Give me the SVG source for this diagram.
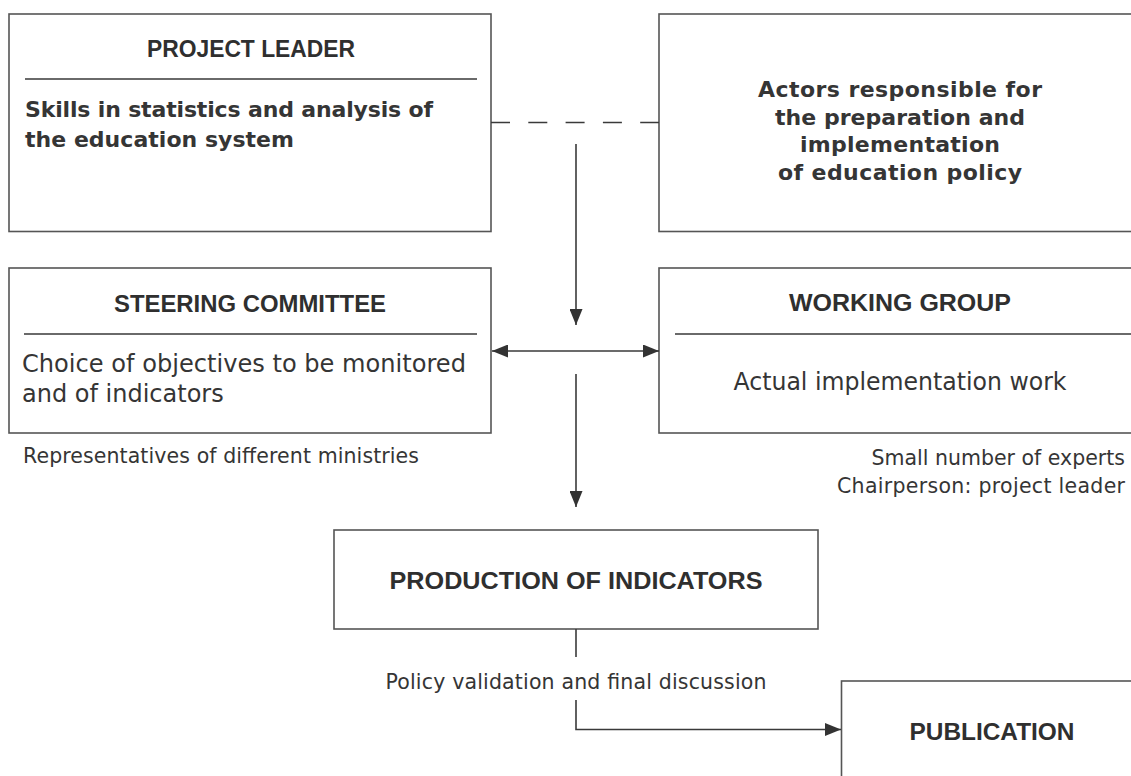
<svg xmlns="http://www.w3.org/2000/svg" width="1131" height="776" viewBox="0 0 1131 776">
<style>
.box{fill:#fff;stroke:#555;stroke-width:1.6}
.div{stroke:#6a6a6a;stroke-width:2}
.title{font-family:"Liberation Sans",Arial,sans-serif;font-weight:bold;font-size:23.5px;fill:#2f2f2f}
.bb{font-family:"DejaVu Sans","Liberation Sans",sans-serif;font-weight:bold;font-size:22px;fill:#353535}
.reg{font-family:"DejaVu Sans","Liberation Sans",sans-serif;font-size:24px;fill:#353535}
.ann{font-family:"DejaVu Sans","Liberation Sans",sans-serif;font-size:20.5px;fill:#353535}
.con{fill:none;stroke:#3a3a3a;stroke-width:1.6}
</style>
<defs>
<marker id="ah" markerUnits="userSpaceOnUse" markerWidth="16" markerHeight="13" refX="16" refY="6.5" orient="auto-start-reverse" viewBox="0 0 16 13">
<path d="M0,0 L16,6.5 L0,13 z" fill="#333"/>
</marker>
</defs>
<g id="project-leader">
<rect class="box" x="9" y="14" width="482" height="217.5"/>
<text class="title" x="251" y="57" text-anchor="middle" textLength="208" lengthAdjust="spacingAndGlyphs">PROJECT LEADER</text>
<line class="div" x1="25" y1="79" x2="477" y2="79"/>
<text class="bb" x="25" y="117" textLength="408" lengthAdjust="spacing">Skills in statistics and analysis of</text>
<text class="bb" x="25" y="147" textLength="269" lengthAdjust="spacing">the education system</text>
</g>
<g id="actors">
<rect class="box" x="659" y="14" width="500" height="217.5"/>
<text class="bb" x="900" y="97" text-anchor="middle" textLength="284" lengthAdjust="spacing">Actors responsible for</text>
<text class="bb" x="900" y="125" text-anchor="middle" textLength="250" lengthAdjust="spacing">the preparation and</text>
<text class="bb" x="900" y="152" text-anchor="middle" textLength="200" lengthAdjust="spacing">implementation</text>
<text class="bb" x="900" y="180" text-anchor="middle" textLength="244" lengthAdjust="spacing">of education policy</text>
</g>
<g id="steering-committee">
<rect class="box" x="9" y="268" width="482" height="165"/>
<text class="title" x="250" y="312" text-anchor="middle" textLength="272" lengthAdjust="spacingAndGlyphs">STEERING COMMITTEE</text>
<line class="div" x1="24" y1="334" x2="477" y2="334"/>
<text class="reg" x="22" y="372" textLength="444" lengthAdjust="spacingAndGlyphs">Choice of objectives to be monitored</text>
<text class="reg" x="22" y="402">and of indicators</text>
<text class="ann" x="23" y="463" textLength="396" lengthAdjust="spacing">Representatives of different ministries</text>
</g>
<g id="working-group">
<rect class="box" x="659" y="268" width="500" height="165"/>
<text class="title" x="900" y="311" text-anchor="middle" textLength="222" lengthAdjust="spacingAndGlyphs">WORKING GROUP</text>
<line class="div" x1="675" y1="334" x2="1140" y2="334"/>
<text class="reg" x="900" y="390" text-anchor="middle" textLength="333" lengthAdjust="spacingAndGlyphs">Actual implementation work</text>
<text class="ann" x="1125" y="465" text-anchor="end">Small number of experts</text>
<text class="ann" x="1125" y="493" text-anchor="end" textLength="288" lengthAdjust="spacing">Chairperson: project leader</text>
</g>
<g id="production">
<rect class="box" x="334" y="530" width="484" height="99"/>
<text class="title" x="576" y="589" text-anchor="middle" textLength="373" lengthAdjust="spacingAndGlyphs">PRODUCTION OF INDICATORS</text>
</g>
<g id="publication">
<rect class="box" x="841.5" y="681" width="400" height="200"/>
<text class="title" x="992" y="740" text-anchor="middle" textLength="165" lengthAdjust="spacingAndGlyphs">PUBLICATION</text>
</g>
<g id="connectors">
<path class="con" d="M491,122.5 H659" stroke-dasharray="19 18.3"/>
<path class="con" d="M576,144 V325" marker-end="url(#ah)"/>
<path class="con" d="M492,351 H659" marker-start="url(#ah)" marker-end="url(#ah)"/>
<path class="con" d="M576,374 V507" marker-end="url(#ah)"/>
<path class="con" d="M576,629 V657"/>
<text class="ann" x="576" y="689" text-anchor="middle" textLength="381" lengthAdjust="spacing">Policy validation and final discussion</text>
<path class="con" d="M576,700 V729.5 H841" marker-end="url(#ah)"/>
</g>
</svg>
